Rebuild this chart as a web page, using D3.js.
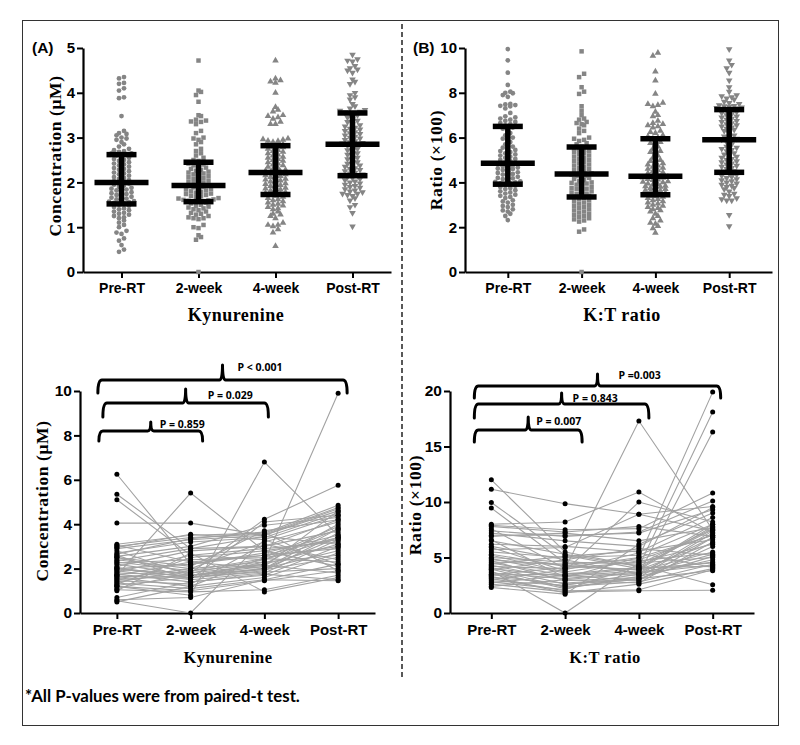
<!DOCTYPE html>
<html><head><meta charset="utf-8">
<script src="https://cdn.jsdelivr.net/npm/d3@7"></script>
<style>body{margin:0;background:#fff} svg{display:block}</style>
</head><body>
<svg id="chart" width="800" height="745"></svg>
<script>
// ---------------- DATA ----------------
const categories = ["Pre-RT", "2-week", "4-week", "Post-RT"];

// Panel A top: Kynurenine concentration (µM), all samples
const kynPre = [4.35,4.32,4.22,4.2,4.1,4.05,3.9,3.88,3.48,3.15,3.1,3.08,3.05,3.0,2.98,2.95,2.9,2.85,2.8,2.75,2.72,2.7,2.68,2.65,2.65,2.62,
2.6,2.58,2.55,2.52,2.5,2.48,2.45,2.42,2.4,2.38,2.35,2.32,2.3,2.28,2.25,2.22,2.2,2.18,2.15,2.12,2.1,2.08,2.05,2.03,2.01,
1.99,1.97,1.95,1.93,1.9,1.88,1.86,1.84,1.82,1.8,1.78,1.76,1.74,1.72,1.7,1.68,1.66,1.64,1.62,1.6,1.58,1.57,1.56,1.54,1.52,
1.5,1.48,1.45,1.42,1.4,1.38,1.35,1.32,1.3,1.28,1.25,1.22,1.2,1.15,1.1,1.05,1.0,0.92,0.88,0.85,0.75,0.7,0.6,0.5,0.45];
const kynWk2 = [4.72,4.05,4.02,3.95,3.8,3.5,3.48,3.4,3.38,3.36,3.35,3.3,3.15,3.1,3.0,2.98,2.95,2.9,2.85,2.75,2.7,2.65,2.6,2.55,2.5,2.48,
2.44,2.42,2.4,2.38,2.36,2.33,2.3,2.28,2.26,2.24,2.22,2.2,2.18,2.16,2.14,2.12,2.1,2.08,2.06,2.04,2.02,2.0,1.98,1.96,1.94,
1.92,1.9,1.89,1.87,1.85,1.84,1.82,1.8,1.79,1.77,1.75,1.74,1.72,1.7,1.69,1.67,1.65,1.64,1.62,1.61,1.6,1.59,1.58,1.57,1.57,
1.55,1.53,1.5,1.48,1.46,1.44,1.42,1.4,1.38,1.35,1.32,1.3,1.28,1.25,1.22,1.2,1.2,1.18,1.05,1.0,0.98,0.82,0.78,0.72,0.0];
const kynWk4 = [4.72,4.32,4.28,4.25,4.22,4.0,3.68,3.62,3.58,3.5,3.48,3.45,3.42,3.35,3.3,3.3,2.98,2.96,2.95,2.93,2.92,2.9,2.85,2.83,2.82,
2.8,2.78,2.75,2.72,2.7,2.68,2.65,2.62,2.6,2.57,2.55,2.52,2.5,2.48,2.45,2.42,2.4,2.38,2.35,2.32,2.3,2.28,2.26,2.24,2.23,
2.2,2.18,2.16,2.14,2.12,2.1,2.08,2.06,2.04,2.02,2.0,1.98,1.96,1.94,1.92,1.9,1.88,1.86,1.84,1.82,1.8,1.78,1.76,1.75,1.74,
1.7,1.68,1.65,1.62,1.6,1.58,1.55,1.52,1.5,1.48,1.45,1.42,1.4,1.35,1.3,1.28,1.25,1.2,1.1,1.05,1.05,1.02,0.95,0.88,0.58];
const kynPost = [4.85,4.75,4.72,4.7,4.6,4.55,4.52,4.5,4.45,4.3,4.25,4.2,4.0,3.95,3.9,3.85,3.75,3.7,3.65,3.62,3.6,3.58,3.56,3.55,3.55,
3.5,3.45,3.42,3.38,3.35,3.3,3.28,3.25,3.22,3.2,3.18,3.15,3.12,3.1,3.08,3.05,3.02,3.0,2.98,2.95,2.92,2.9,2.88,2.87,2.86,
2.82,2.8,2.75,2.72,2.7,2.65,2.62,2.6,2.55,2.52,2.5,2.45,2.42,2.4,2.38,2.35,2.32,2.3,2.28,2.25,2.22,2.2,2.18,2.17,2.16,
2.12,2.1,2.08,2.05,2.02,2.0,1.98,1.95,1.92,1.9,1.88,1.85,1.82,1.8,1.78,1.75,1.75,1.72,1.7,1.65,1.6,1.5,1.45,1.32,1.02];
const kynMedian = [2.0, 1.93, 2.22, 2.85];
const kynQ1 = [1.52, 1.57, 1.73, 2.15];
const kynQ3 = [2.62, 2.45, 2.82, 3.55];

// Panel B top: K:T ratio (x100), all samples
const ktPre = [9.95,9.45,8.9,8.35,8.05,8.0,7.98,7.9,7.82,7.5,7.48,7.45,7.42,7.4,7.3,7.1,6.95,6.9,6.85,6.8,6.75,6.7,6.65,6.6,6.55,
6.45,6.4,6.3,6.2,6.1,6.0,5.95,5.9,5.8,5.7,5.6,5.55,5.5,5.45,5.4,5.35,5.3,5.25,5.2,5.15,5.1,5.05,5.0,4.95,4.9,
4.82,4.8,4.76,4.72,4.7,4.66,4.62,4.6,4.55,4.5,4.45,4.42,4.38,4.35,4.3,4.25,4.2,4.18,4.15,4.1,4.05,4.02,4.0,3.96,3.94,
3.9,3.85,3.8,3.75,3.7,3.65,3.6,3.55,3.5,3.45,3.4,3.35,3.3,3.2,3.15,3.1,3.0,2.95,2.9,2.8,2.75,2.7,2.6,2.5,2.32];
const ktWk2 = [9.85,8.85,8.7,8.25,8.05,7.95,7.4,7.2,7.0,6.85,6.8,6.7,6.65,6.6,6.55,6.4,6.3,6.2,6.0,5.95,5.9,5.85,5.75,5.7,5.6,
5.55,5.5,5.45,5.42,5.4,5.35,5.3,5.25,5.2,5.15,5.1,5.05,5.0,4.95,4.9,4.85,4.8,4.75,4.7,4.65,4.6,4.55,4.5,4.45,4.4,
4.35,4.3,4.28,4.25,4.2,4.15,4.1,4.05,4.0,3.98,3.95,3.9,3.85,3.8,3.75,3.72,3.7,3.65,3.6,3.55,3.5,3.48,3.45,3.4,3.36,
3.3,3.25,3.2,3.15,3.1,3.05,3.0,2.95,2.9,2.85,2.8,2.75,2.7,2.65,2.6,2.55,2.5,2.45,2.4,2.35,2.3,2.25,1.9,1.8,0.0];
const ktWk4 = [9.78,9.65,8.95,8.55,7.95,7.55,7.5,7.45,7.4,7.15,7.0,6.95,6.75,6.65,6.6,6.55,6.5,6.45,6.3,6.25,6.2,6.1,6.05,6.0,5.96,
5.8,5.75,5.7,5.6,5.5,5.4,5.35,5.3,5.2,5.1,5.0,4.95,4.9,4.85,4.8,4.75,4.7,4.65,4.6,4.55,4.5,4.45,4.4,4.35,4.3,
4.25,4.22,4.2,4.15,4.12,4.1,4.05,4.02,4.0,3.95,3.92,3.9,3.85,3.82,3.8,3.75,3.72,3.7,3.65,3.62,3.6,3.55,3.52,3.5,3.46,
3.4,3.38,3.35,3.3,3.25,3.2,3.15,3.1,3.05,3.0,2.95,2.9,2.85,2.8,2.75,2.7,2.6,2.5,2.4,2.3,2.2,2.15,2.05,1.95,1.75];
const ktPost = [9.95,9.45,9.25,9.1,8.9,8.55,8.25,8.05,7.9,7.85,7.8,7.75,7.7,7.6,7.55,7.5,7.45,7.42,7.4,7.38,7.35,7.32,7.3,7.28,7.26,
7.2,7.15,7.1,7.05,7.0,6.95,6.9,6.85,6.8,6.75,6.7,6.65,6.6,6.55,6.5,6.45,6.4,6.35,6.3,6.2,6.1,6.05,6.0,5.95,5.92,
5.85,5.8,5.7,5.6,5.55,5.5,5.45,5.4,5.3,5.25,5.2,5.15,5.1,5.05,5.0,4.95,4.9,4.85,4.8,4.75,4.7,4.65,4.6,4.5,4.48,
4.4,4.35,4.3,4.25,4.2,4.15,4.1,4.05,4.0,3.95,3.9,3.85,3.8,3.75,3.7,3.6,3.5,3.45,3.4,3.3,3.25,3.2,3.2,2.55,2.05];
const ktMedian = [4.85, 4.38, 4.28, 5.9];
const ktQ1 = [3.92, 3.35, 3.45, 4.45];
const ktQ3 = [6.5, 5.58, 5.95, 7.25];

// Bottom: paired subjects (same index = same subject)
const pairKynPre  = [6.25,5.35,5.1,4.05,1.7,2.0,1.2,0.55,2.5,3.1,3.0,2.9,2.8,2.7,2.6,2.55,2.5,2.4,2.3,2.25,2.2,2.1,2.05,2.0,1.95,1.9,1.85,1.8,1.75,1.7,1.65,1.6,1.55,1.5,1.45,1.4,1.35,1.3,1.25,1.2,1.1,1.05,1.0,0.7,0.6,0.5,2.95,2.65,3.05,2.35];
const pairKynWk2  = [2.2,2.9,2.6,4.05,5.4,1.6,0.8,0.0,1.8,3.5,3.4,3.3,1.7,3.2,1.5,3.0,2.1,2.0,1.9,2.4,1.7,2.8,1.6,2.2,1.8,1.5,2.6,1.7,1.4,2.3,1.6,1.2,2.0,1.7,1.3,1.9,1.1,2.5,1.6,1.0,1.8,0.95,2.7,1.4,0.7,1.2,3.55,3.35,2.3,2.9];
const pairKynWk4  = [2.6,3.0,2.4,3.5,2.8,2.3,6.8,3.3,4.22,3.6,3.55,3.5,2.1,3.4,4.1,3.95,3.7,3.2,2.2,2.5,2.0,3.0,1.9,2.7,2.4,1.8,2.9,2.2,1.7,2.6,2.0,1.6,2.3,1.95,3.1,2.45,1.5,2.8,1.85,1.45,2.15,1.05,0.95,1.75,1.5,2.5,3.3,3.65,2.0,3.45];
const pairKynPost = [3.4,4.2,3.8,4.6,3.3,9.9,3.5,4.4,5.75,4.85,4.75,4.7,4.6,4.5,4.4,4.3,4.2,4.1,4.0,3.9,3.8,3.7,3.6,3.5,3.4,3.3,3.2,3.1,3.0,2.9,2.8,2.7,2.6,2.5,2.4,2.3,2.2,2.1,2.0,1.9,1.8,1.7,1.6,1.5,1.45,3.0,2.2,1.9,3.4,3.1];

const pairKtPre  = [12.0,11.15,9.95,9.45,8.0,7.9,7.8,7.6,7.4,7.2,7.0,6.6,6.5,6.0,5.9,5.5,5.3,5.0,4.9,4.7,4.6,4.5,4.4,4.3,4.2,4.1,4.0,3.9,3.8,3.7,3.6,3.5,3.4,3.3,3.2,3.1,3.0,2.9,2.8,2.6,2.4,2.3,5.7,6.9,6.2,5.2,4.8,3.95,3.45,2.7];
const pairKtWk2  = [5.5,9.85,5.2,4.5,8.2,7.5,7.3,4.0,6.9,6.5,7.0,3.2,5.3,4.8,3.8,5.0,4.2,4.6,3.6,2.9,4.4,3.4,5.1,3.0,4.0,2.6,3.3,4.8,0.0,2.2,3.1,2.4,3.5,1.8,2.7,2.0,3.9,2.5,2.1,1.9,3.0,1.7,5.9,7.2,6.0,3.7,4.3,2.3,4.1,3.4];
const pairKtWk4  = [4.2,8.9,4.0,3.6,10.9,7.6,7.8,17.3,7.3,6.0,7.2,5.0,4.2,3.5,10.0,5.2,3.9,4.4,3.4,3.2,4.8,2.9,5.6,2.7,4.6,3.0,3.8,5.8,4.5,3.3,3.7,2.8,4.1,2.6,3.1,2.1,5.4,3.5,4.3,2.0,3.6,6.2,8.9,6.5,5.5,4.7,3.9,3.1,5.0,4.0];
const pairKtPost = [7.5,7.4,8.0,6.8,7.2,10.8,6.9,7.5,10.1,9.5,9.3,19.9,18.1,16.3,8.2,8.0,7.8,7.6,7.4,7.2,7.0,6.8,6.6,6.4,6.2,6.0,5.5,5.2,5.0,4.8,4.6,4.4,4.2,4.0,3.8,3.9,4.1,5.3,2.55,2.05,4.3,9.0,9.6,7.7,8.6,5.4,6.3,5.1,7.0,4.5];

const kynPLabels = ["P = 0.859", "P = 0.029", "P < 0.001"];
const ktPLabels = ["P = 0.007", "P = 0.843", "P =0.003"];
const comparePairs = [[0, 1], [0, 2], [0, 3]];

// ---------------- DRAWING ----------------
const svg = d3.select("#chart");
const TICKFONT = "'Liberation Sans', Arial, sans-serif";
const SERIF = "'Liberation Serif', 'Times New Roman', serif";

svg.append("rect").attr("x", 22.5).attr("y", 20.5).attr("width", 756).attr("height", 705)
  .attr("fill", "none").attr("stroke", "#333").attr("stroke-width", 1);
svg.append("line").attr("x1", 402).attr("x2", 402).attr("y1", 24).attr("y2", 680)
  .attr("stroke", "#222").attr("stroke-width", 1.5).attr("stroke-dasharray", "5,3");

function styleAxis(g, fs) {
  g.select(".domain").attr("stroke", "#000").attr("stroke-width", 2.2);
  g.selectAll(".tick line").attr("stroke", "#000").attr("stroke-width", 2);
  g.selectAll(".tick text").attr("fill", "#000").attr("font-family", TICKFONT)
    .attr("font-weight", "bold").attr("font-size", fs);
}

function makeAxes(o) {
  const x = d3.scalePoint().domain(categories).range([o.x0, o.x1]).padding(o.pad);
  const y = d3.scaleLinear().domain([0, o.ymax]).range([o.y0, o.y1]);
  const gx = svg.append("g").attr("transform", `translate(0,${o.y0})`)
    .call(d3.axisBottom(x).tickSize(6).tickSizeOuter(0).tickPadding(5));
  styleAxis(gx, o.xfs);
  const gy = svg.append("g").attr("transform", `translate(${o.x0},0)`)
    .call(d3.axisLeft(y).tickValues(o.ticks).tickSize(6).tickSizeOuter(0).tickPadding(2).tickFormat(d3.format("d")));
  styleAxis(gy, o.yfs);
  svg.append("text").attr("x", o.xtx).attr("y", o.xty).attr("text-anchor", "middle")
    .attr("font-family", SERIF).attr("font-weight", "bold").attr("font-size", o.xtfs)
    .attr("letter-spacing", 0.5).text(o.xtitle);
  svg.append("text").attr("transform", `translate(${o.ytx},${o.yty}) rotate(-90)`).attr("text-anchor", "middle")
    .attr("font-family", SERIF).attr("font-weight", "bold").attr("font-size", 17.5)
    .attr("letter-spacing", 0.6).text(o.ytitle);
  return {x, y};
}

const shapes = [d3.symbolCircle, d3.symbolSquare, d3.symbolTriangle, d3.symbolTriangle];
const shapeSize = [18, 20, 19, 19];
const shapeRot = [0, 0, 0, 180];

function swarm(vals, cx, y, rowH, dx) {
  const sorted = vals.slice().sort((a, b) => a - b);
  const rows = []; let cur = null;
  sorted.forEach(v => {
    const py = y(v);
    if (!cur || cur.start - py >= rowH) { cur = {start: py, pts: []}; rows.push(cur); }
    cur.pts.push(py);
  });
  const out = [];
  rows.forEach(r => {
    const k = r.pts.length;
    const order = d3.range(k).sort((a, b) => Math.abs(a - (k - 1) / 2) - Math.abs(b - (k - 1) / 2));
    r.pts.forEach((py, i) => out.push({x: cx + (order[i] - (k - 1) / 2) * dx, y: py}));
  });
  return out;
}

function dotPanel(o, groups, med, q1, q3) {
  const {x, y} = makeAxes(o);
  groups.forEach((vals, gi) => {
    const cx = x(categories[gi]);
    const pts = swarm(vals, cx, y, 3.8, 5.0);
    svg.append("g").selectAll("path").data(pts).join("path")
      .attr("d", d3.symbol().type(shapes[gi]).size(shapeSize[gi]))
      .attr("transform", d => `translate(${d.x},${d.y}) rotate(${shapeRot[gi]})`)
      .attr("fill", "#858585");
    const g = svg.append("g").attr("stroke", "#000").attr("stroke-width", 5.5);
    g.append("line").attr("x1", cx).attr("x2", cx).attr("y1", y(q1[gi])).attr("y2", y(q3[gi]));
    g.append("line").attr("x1", cx - 15).attr("x2", cx + 15).attr("y1", y(q1[gi])).attr("y2", y(q1[gi]));
    g.append("line").attr("x1", cx - 15).attr("x2", cx + 15).attr("y1", y(q3[gi])).attr("y2", y(q3[gi]));
    g.append("line").attr("x1", cx - 27).attr("x2", cx + 27).attr("y1", y(med[gi])).attr("y2", y(med[gi]));
  });
  svg.append("text").attr("x", o.lblx).attr("y", 53).attr("font-family", TICKFONT)
    .attr("font-weight", "bold").attr("font-size", 15.5).text(o.label);
}

function pairPanel(o, series, plabels, br) {
  const {x, y} = makeAxes(o);
  const subjects = d3.range(series[0].length).map(i => series.map(s => s[i]));
  const line = d3.line().x((d, i) => x(categories[i])).y(d => y(d));
  svg.append("g").selectAll("path").data(subjects).join("path")
    .attr("d", line).attr("fill", "none").attr("stroke", "#a2a2a2").attr("stroke-width", 1.1);
  series.forEach((s, gi) => {
    svg.append("g").selectAll("circle").data(s).join("circle")
      .attr("cx", x(categories[gi])).attr("cy", d => y(d)).attr("r", 2.5).attr("fill", "#000");
  });
  comparePairs.forEach((pr, k) => {
    const b = br[k];
    const x1 = x(categories[pr[0]]) + b.l, x2 = x(categories[pr[1]]) + b.r;
    const xm = (x1 + x2) / 2, yt = b.top, yb = b.top + b.drop, yu = b.top - b.bump;
    const r = 4;
    const p = `M${x1},${yb} Q${x1},${yt} ${x1 + r},${yt} L${xm - 3},${yt} Q${xm},${yt} ${xm},${yu} ` +
      `Q${xm},${yt} ${xm + 3},${yt} L${x2 - r},${yt} Q${x2},${yt} ${x2},${yb}`;
    svg.append("path").attr("d", p).attr("fill", "none").attr("stroke", "#000")
      .attr("stroke-width", 3).attr("stroke-linecap", "round").attr("stroke-linejoin", "round");
    svg.append("text").attr("x", xm + b.tx).attr("y", yu + b.ty).attr("font-family", "'Open Sans', sans-serif")
      .attr("font-weight", "bold").attr("font-size", 10.5).text(plabels[k]);
  });
}

dotPanel({x0: 83, x1: 391, pad: 0.5, y0: 272, y1: 48, ymax: 5, ticks: [0,1,2,3,4,5],
  xfs: 14, yfs: 15, xtitle: "Kynurenine", xtx: 236, xty: 321, xtfs: 18,
  ytitle: "Concentration (\u03bcM)", ytx: 61, yty: 156, lblx: 32, label: "(A)"},
  [kynPre, kynWk2, kynWk4, kynPost], kynMedian, kynQ1, kynQ3);

dotPanel({x0: 465, x1: 772, pad: 0.58, y0: 272, y1: 48, ymax: 10, ticks: [0,2,4,6,8,10],
  xfs: 14, yfs: 15, xtitle: "K:T ratio", xtx: 622, xty: 321, xtfs: 18,
  ytitle: "Ratio (\u00d7100)", ytx: 442, yty: 160, lblx: 413, label: "(B)"},
  [ktPre, ktWk2, ktWk4, ktPost], ktMedian, ktQ1, ktQ3);

pairPanel({x0: 80, x1: 375, pad: 0.5, y0: 613, y1: 391, ymax: 10, ticks: [0,2,4,6,8,10],
  xfs: 15, yfs: 15.5, xtitle: "Kynurenine", xtx: 228, xty: 663, xtfs: 16.5,
  ytitle: "Concentration (\u03bcM)", ytx: 48, yty: 501},
  [pairKynPre, pairKynWk2, pairKynWk4, pairKynPost], kynPLabels,
  [{l: -18, r: 12, top: 431, drop: 10, bump: 9, tx: 9, ty: 6},
   {l: -14, r: 4, top: 403, drop: 14, bump: 14, tx: 22, ty: 10},
   {l: -19, r: 9, top: 380, drop: 13, bump: 15, tx: 15, ty: 6}]);

pairPanel({x0: 450, x1: 754, pad: 0.56, y0: 613, y1: 391, ymax: 20, ticks: [0,5,10,15,20],
  xfs: 15, yfs: 15.5, xtitle: "K:T ratio", xtx: 605, xty: 663, xtfs: 16.5,
  ytitle: "Ratio (\u00d7100)", ytx: 421, yty: 505},
  [pairKtPre, pairKtWk2, pairKtWk4, pairKtPost], ktPLabels,
  [{l: -17, r: 17, top: 430, drop: 12, bump: 13, tx: 8, ty: 8},
   {l: -17, r: 10, top: 404, drop: 14, bump: 11, tx: 11, ty: 9},
   {l: -17, r: 8, top: 386, drop: 12, bump: 12, tx: 21, ty: 5}]);

svg.append("text").attr("x", 25).attr("y", 702).attr("font-family", "Lato, 'Open Sans', sans-serif")
  .attr("font-weight", "bold").attr("font-size", 16.8).text("*All P-values were from paired-t test.");
</script>
</body></html>
